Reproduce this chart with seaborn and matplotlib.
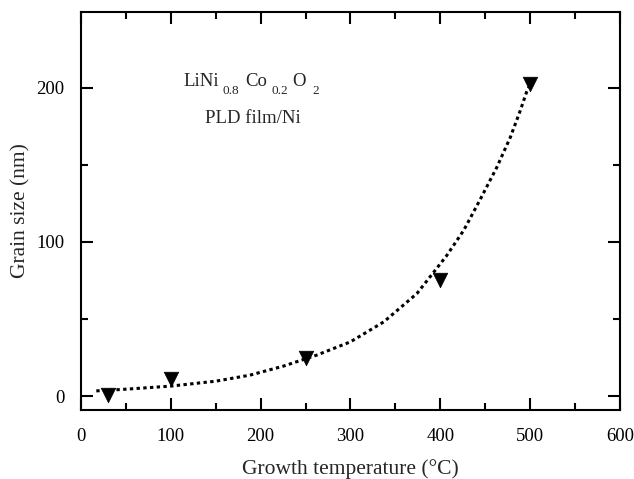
import matplotlib
matplotlib.use("Agg")
import matplotlib.pyplot as plt
from matplotlib.ticker import MultipleLocator
import seaborn as sns
import pandas as pd

# Measured data points
temperature = [30, 100, 250, 400, 500]
grain_size = [0.5, 11, 25, 75, 202]

# Fitted curve
curve_x = [17, 50, 100, 150, 188, 225, 262, 300, 337, 374, 407, 426, 444, 463, 478, 489, 496, 500]
curve_y = [3.4, 4.5, 6.5, 9.7, 13.6, 19.4, 26.5, 35.2, 48.1, 66.5, 91, 107.4, 127, 148.4, 167.8, 185, 197, 202]

sns.set_style("ticks")
plt.rcParams["font.family"] = ["Liberation Serif", "DejaVu Serif"]

fig = plt.figure(figsize=(6.34, 4.79), dpi=100)
ax = fig.add_axes([0.1278, 0.144, 0.850, 0.831])

df_pts = pd.DataFrame({"T": temperature, "G": grain_size})
df_fit = pd.DataFrame({"T": curve_x, "G": curve_y})

sns.lineplot(data=df_fit, x="T", y="G", ax=ax, color="black", linewidth=2.2,
             linestyle=(0, (1.1, 1.1)), sort=False)
sns.scatterplot(data=df_pts, x="T", y="G", ax=ax, marker="v", s=110,
                color="black", edgecolor="black", linewidth=0.5, zorder=5)

ax.set_xlim(0, 600)
ax.set_ylim(-9, 249)
ax.xaxis.set_major_locator(MultipleLocator(100))
ax.xaxis.set_minor_locator(MultipleLocator(50))
ax.yaxis.set_major_locator(MultipleLocator(100))
ax.yaxis.set_minor_locator(MultipleLocator(50))

ax.tick_params(which="both", direction="in", top=True, right=True,
               width=1.5, colors="black", labelsize=13.5)
ax.tick_params(which="major", length=8.5)
ax.tick_params(which="minor", length=5)
ax.tick_params(axis="x", which="major", pad=13)
ax.tick_params(axis="y", which="major", pad=12)
for sp in ax.spines.values():
    sp.set_linewidth(1.5)
    sp.set_color("black")

ax.set_xlabel("Growth temperature (°C)", fontsize=15.5, labelpad=10)
ax.set_ylabel("Grain size (nm)", fontsize=15.5, labelpad=4)

# Formula annotation with low-set subscripts
main_fs, sub_fs = 13.5, 9.5
pieces = [("LiNi", 114, 201.3, main_fs), ("0.8", 158, 195.9, sub_fs),
          ("Co", 182.6, 201.3, main_fs), ("0.2", 211.6, 195.9, sub_fs),
          ("O", 235.3, 201.3, main_fs), ("2", 257.6, 195.9, sub_fs)]
for s, x, y, fs in pieces:
    ax.text(x, y, s, fontsize=fs, ha="left", va="baseline")
ax.text(138, 176.9, "PLD film/Ni", fontsize=main_fs, ha="left", va="baseline")

fig.savefig("out.png", dpi=100)
